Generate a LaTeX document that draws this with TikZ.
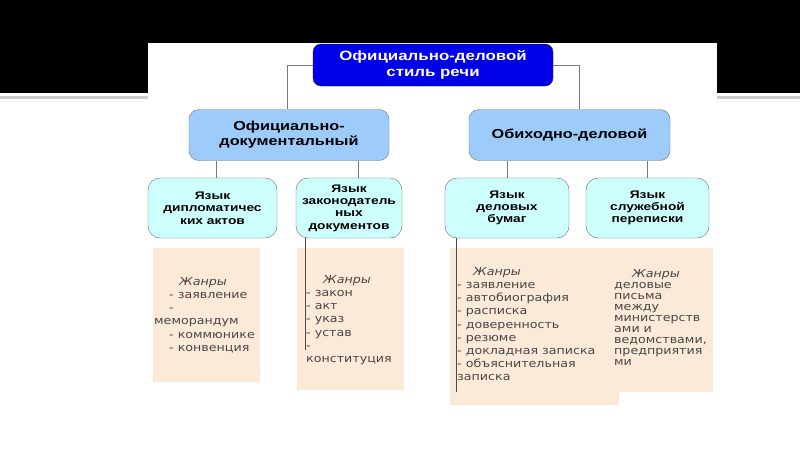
\documentclass[tikz,border=0pt]{standalone}
\usepackage{fontspec}
\setmainfont{Liberation Sans}
\newfontfamily\headfont[FakeStretch=1.25]{Liberation Sans}
\newfontfamily\genrefont[FakeStretch=1.15]{DejaVu Sans}
\definecolor{topblue}{RGB}{0,0,232}
\definecolor{branchblue}{RGB}{158,204,250}
\definecolor{langcyan}{RGB}{206,255,255}
\definecolor{peach}{RGB}{252,234,216}
\definecolor{linegray}{RGB}{120,120,120}
\definecolor{genretext}{RGB}{70,70,70}
\tikzset{%
    top box/.style={
      rectangle,
      rounded corners=8pt,
      draw=black!85,
      fill=topblue,
      text=white,
      align=center,
      inner sep=0pt,
      font=\headfont\bfseries\fontsize{13.5}{16}\selectfont
    },
    branch box/.style={
      rectangle,
      rounded corners=10pt,
      draw=black!55,
      fill=branchblue,
      align=center,
      inner sep=0pt,
      minimum height=51pt,
      font=\headfont\bfseries\fontsize{13}{15}\selectfont
    },
    lang box/.style={
      rectangle,
      rounded corners=12pt,
      draw=black!60,
      fill=langcyan,
      align=center,
      inner sep=0pt,
      minimum height=60pt,
      font=\headfont\bfseries\fontsize{11}{12.3}\selectfont
    },
    genre text/.style={
      anchor=north west,
      align=left,
      inner sep=0pt,
      text=genretext,
      font=\genrefont\fontsize{11}{13.2}\selectfont
    },
    link/.style={
      draw=linegray,
      line width=0.8pt
    }
  }

\begin{document}
\begin{tikzpicture}[x=1pt, y=-1pt]
      \useasboundingbox (0,0) rectangle (800,450);
      \fill [black] (0,0) rectangle (800,93);
      \fill [black!20] (0,96) rectangle (800,98.5);
      \fill [white] (148,43) rectangle (717,410);

      \fill [peach] (153,248) rectangle (260,382);
      \fill [peach] (297,248) rectangle (404,390);
      \fill [peach] (450,248) rectangle (619,405);
      \fill [peach] (613,248) rectangle (713,392);

      \node [top box, minimum width=240pt, minimum height=42pt] (style) at (433,65) {Официально-деловой\\стиль речи};

      \node [branch box, minimum width=200pt] (doc) at (289,135) {Официально-\\документальный};
      \node [branch box, minimum width=201pt] (everyday) at (569.5,135) {Обиходно-деловой};

      \node [lang box, minimum width=129pt] (dipl) at (212.5,208) {Язык\\дипломатичес\\ких актов};
      \node [lang box, minimum width=106pt] (law) at (349,208) {Язык\\законодатель\\ных\\документов};
      \node [lang box, minimum width=124pt] (papers) at (507,208) {Язык\\деловых\\бумаг};
      \node [lang box, minimum width=123pt] (letters) at (647.5,208) {Язык\\служебной\\переписки};

      \draw [link] (style.west) -| ([xshift=-2pt]doc.north);
      \draw [link] (style.east) -| ([xshift=10pt]everyday.north);

      \draw [link] ([xshift=4pt]dipl.north) -- ([xshift=4pt]dipl.north |- doc.south);
      \draw [link] ([xshift=9pt]law.north) -- ([xshift=9pt]law.north |- doc.south);
      \draw [link] (papers.north) -- (papers.north |- everyday.south);
      \draw [link] (letters.north) -- (letters.north |- everyday.south);

      \coordinate (lawend) at (305,350);
      \coordinate (papersend) at (456,392);
      \draw [link, draw=black!70, line width=1pt] (law.south -| lawend) -- (lawend);
      \draw [link, draw=black!70, line width=1pt] (papers.south -| papersend) -- (papersend);

      \node [genre text] (diplgenres) at (154,277) {\hspace*{25pt}\textit{Жанры}\\
        \hspace*{15pt}- заявление\\
        \hspace*{15pt}-\\
        меморандум\\
        \hspace*{15pt}- коммюнике\\
        \hspace*{15pt}- конвенция};
      \node [genre text] (lawgenres) at (306,275) {\hspace*{17pt}\textit{Жанры}\\
        - закон\\
        - акт\\
        - указ\\
        - устав\\
        -\\
        конституция};
      \node [genre text] (papersgenres) at (457,267) {\hspace*{16pt}\textit{Жанры}\\
        - заявление\\
        - автобиография\\
        - расписка\\
        - доверенность\\
        - резюме\\
        - докладная записка\\
        - объяснительная\\
        записка};
      \node [genre text, font=\genrefont\fontsize{11}{11}\selectfont] (lettersgenres) at (614,269) {\hspace*{18pt}\textit{Жанры}\\
        деловые\\
        письма\\
        между\\
        министерств\\
        ами и\\
        ведомствами,\\
        предприятия\\
        ми};
\end{tikzpicture}
\end{document}
